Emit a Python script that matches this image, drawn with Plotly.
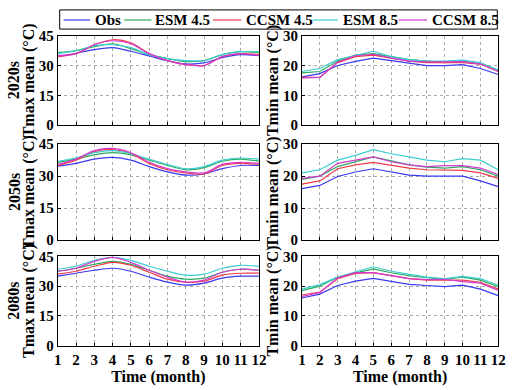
import plotly.graph_objects as go

months = list(range(1, 13))
series_names = ["Obs", "ESM 4.5", "CCSM 4.5", "ESM 8.5", "CCSM 8.5"]
series_colors = ["#3a3af0", "#2fa860", "#f03a4a", "#3ccdd0", "#d23ad0"]

# Tmax (left column)
tmax_2020s = [
    [34.5, 36.2, 38.0, 39.0, 37.2, 34.8, 32.4, 30.8, 31.3, 34.0, 35.5, 35.0],
    [36.5, 37.5, 39.5, 41.0, 38.5, 35.5, 33.5, 32.0, 32.5, 35.5, 37.0, 36.5],
    [34.5, 36.0, 40.5, 43.0, 41.5, 36.0, 32.5, 30.5, 30.0, 34.5, 36.0, 35.5],
    [36.0, 37.5, 40.0, 40.5, 39.0, 35.5, 33.5, 32.5, 32.5, 35.5, 37.0, 37.0],
    [35.0, 36.0, 40.5, 42.5, 41.0, 36.0, 32.5, 30.5, 30.0, 34.5, 36.0, 35.0],
]
tmax_2050s = [
    [34.7, 36.0, 38.0, 38.8, 37.5, 34.5, 32.0, 30.5, 31.0, 33.5, 35.0, 35.0],
    [36.5, 38.0, 40.0, 41.0, 40.0, 37.5, 35.0, 33.0, 34.0, 37.0, 38.0, 37.0],
    [35.0, 37.5, 41.5, 42.5, 40.5, 36.0, 33.0, 31.5, 31.0, 35.0, 36.0, 35.5],
    [37.0, 38.5, 41.0, 42.0, 40.5, 38.0, 35.5, 33.5, 34.5, 37.5, 38.5, 38.0],
    [35.5, 38.0, 42.0, 43.0, 41.0, 36.5, 33.5, 32.0, 31.5, 35.5, 36.5, 36.0],
]
tmax_2080s = [
    [35.0, 36.5, 38.0, 39.0, 37.5, 34.5, 32.0, 30.5, 31.5, 34.0, 35.0, 35.0],
    [37.5, 39.0, 41.0, 42.5, 41.0, 38.0, 35.0, 33.5, 34.0, 37.0, 38.5, 38.0],
    [36.0, 37.5, 40.0, 42.0, 40.5, 37.0, 33.5, 32.0, 32.5, 35.5, 36.5, 36.5],
    [38.5, 40.0, 43.0, 44.5, 43.0, 40.0, 37.5, 35.5, 36.0, 39.0, 40.5, 40.0],
    [37.5, 39.0, 42.5, 44.5, 42.0, 38.0, 34.5, 32.0, 33.0, 37.0, 38.5, 38.0],
]
# Tmin (right column)
tmin_2020s = [
    [16.2, 17.3, 20.0, 21.4, 22.5, 21.6, 20.8, 20.0, 20.0, 20.3, 19.0, 17.0],
    [17.5, 18.0, 21.5, 23.5, 24.0, 23.0, 22.0, 21.5, 21.0, 21.5, 20.5, 18.5],
    [16.0, 16.0, 21.0, 23.0, 23.5, 22.5, 21.5, 21.0, 21.0, 21.0, 20.5, 18.0],
    [18.0, 19.0, 22.0, 23.5, 24.8, 23.0, 22.0, 21.5, 21.5, 21.8, 21.0, 18.5],
    [15.8, 16.0, 21.2, 23.3, 23.8, 22.5, 21.5, 21.2, 21.2, 21.3, 20.5, 18.0],
]
tmin_2050s = [
    [16.1, 17.1, 19.9, 21.3, 22.3, 21.3, 20.3, 20.0, 20.0, 20.0, 18.5, 16.7],
    [19.0, 20.0, 23.0, 24.5, 26.0, 24.8, 23.5, 22.8, 22.5, 23.0, 22.0, 20.0],
    [17.5, 18.5, 22.3, 23.5, 24.3, 23.3, 22.5, 22.0, 21.8, 21.8, 21.0, 19.3],
    [21.0, 22.0, 25.0, 26.5, 28.3, 27.0, 26.0, 25.0, 24.5, 25.5, 25.0, 22.0],
    [19.3, 20.0, 24.0, 25.0, 26.0, 24.5, 23.5, 23.0, 23.3, 23.3, 22.5, 20.5],
]
tmin_2080s = [
    [16.0, 17.3, 20.2, 21.7, 22.6, 21.6, 20.6, 20.2, 19.8, 20.3, 19.0, 16.8],
    [18.5, 20.0, 23.0, 24.5, 25.8, 24.5, 23.5, 22.8, 22.3, 23.0, 22.0, 19.8],
    [17.0, 18.0, 22.5, 24.3, 24.5, 23.5, 22.5, 22.0, 22.0, 22.0, 21.3, 19.0],
    [19.0, 20.5, 23.0, 24.8, 26.5, 25.0, 24.0, 23.0, 22.5, 23.3, 22.5, 20.3],
    [16.5, 17.8, 22.8, 24.5, 24.5, 23.5, 22.5, 22.2, 22.3, 21.5, 21.0, 18.5],
]

row_labels = ["2020s", "2050s", "2080s"]
tmax_rows = [tmax_2020s, tmax_2050s, tmax_2080s]
tmin_rows = [tmin_2020s, tmin_2050s, tmin_2080s]
col_titles = ["Tmax mean (°C)", "Tmin mean (°C)"]
x_title = "Time (month)"

W, H = 518, 390
FONT = "Liberation Serif"
row_px = [(29, 122), (142, 242), (259, 352)]
col_px = [(55, 261), (305, 506)]

def px_x(v):
    return v / W

def px_y(v):
    return 1 - v / H

def tfont(size):
    return dict(family=FONT, size=size, color="black", weight="bold")

fig = go.Figure()
layout = {}
annotations = []
shapes = []
ax = 0
for r in range(3):
    for c in range(2):
        ax += 1
        sfx = "" if ax == 1 else str(ax)
        data = tmax_rows[r] if c == 0 else tmin_rows[r]
        for i, name in enumerate(series_names):
            fig.add_trace(go.Scatter(
                x=months, y=data[i], mode="lines", name=name,
                line=dict(color=series_colors[i], width=1.2,
                          shape="spline" if c == 0 else "linear", smoothing=0.8),
                xaxis="x" + sfx, yaxis="y" + sfx, showlegend=False,
            ))
        bottom = (r == 2)
        top, bot = row_px[r]
        layout["xaxis" + sfx] = dict(
            domain=[px_x(col_px[c][0]), px_x(col_px[c][1])], anchor="y" + sfx,
            range=[1, 12], tickvals=months, showticklabels=bottom,
            showgrid=True, gridcolor="#aaaaaa", griddash="dot", gridwidth=1,
            showline=True, mirror=True, linecolor="black", linewidth=1,
            ticks="inside", ticklen=3, tickcolor="black",
            tickfont=tfont(15), zeroline=False,
            title=dict(text=x_title if bottom else "", standoff=0, font=tfont(16)),
        )
        ymax = 45 if c == 0 else 30
        layout["yaxis" + sfx] = dict(
            domain=[px_y(bot), px_y(top)], anchor="x" + sfx,
            range=[0, ymax], tickvals=[0, 15, 30, 45] if c == 0 else [0, 10, 20, 30],
            showgrid=True, gridcolor="#aaaaaa", griddash="dot", gridwidth=1,
            showline=True, mirror=True, linecolor="black", linewidth=1,
            ticks="inside", ticklen=3, tickcolor="black",
            tickfont=tfont(15), zeroline=False,
            title=dict(text=col_titles[c], standoff=0, font=tfont(16)),
        )

for r, lab in enumerate(row_labels):
    top, bot = row_px[r]
    annotations.append(dict(
        text=lab, x=px_x(10), y=px_y((top + bot) / 2), xref="paper", yref="paper",
        textangle=-90, showarrow=False, xanchor="center", yanchor="middle",
        font=tfont(16),
    ))

# manual legend (box, line samples, labels)
shapes.append(dict(type="rect", xref="paper", yref="paper",
                   x0=px_x(57), x1=px_x(505), y0=px_y(22), y1=px_y(2),
                   line=dict(color="black", width=1), fillcolor="white"))
leg_line_x = [(61, 88), (123, 151), (214, 243), (316, 342), (404, 433)]
leg_text_x = [91, 153, 246, 345, 436]
for i, name in enumerate(series_names):
    x0, x1 = leg_line_x[i]
    shapes.append(dict(type="line", xref="paper", yref="paper",
                       x0=px_x(x0), x1=px_x(x1), y0=px_y(12.5), y1=px_y(12.5),
                       line=dict(color=series_colors[i], width=1.2)))
    annotations.append(dict(
        text=name, x=px_x(leg_text_x[i]), y=px_y(12.5), xref="paper", yref="paper",
        showarrow=False, xanchor="left", yanchor="middle", font=tfont(15),
    ))

fig.update_layout(
    width=W, height=H, margin=dict(l=0, r=0, t=0, b=0),
    paper_bgcolor="white", plot_bgcolor="white",
    annotations=annotations, shapes=shapes, showlegend=False,
    **layout,
)

fig.write_html("out.html")
